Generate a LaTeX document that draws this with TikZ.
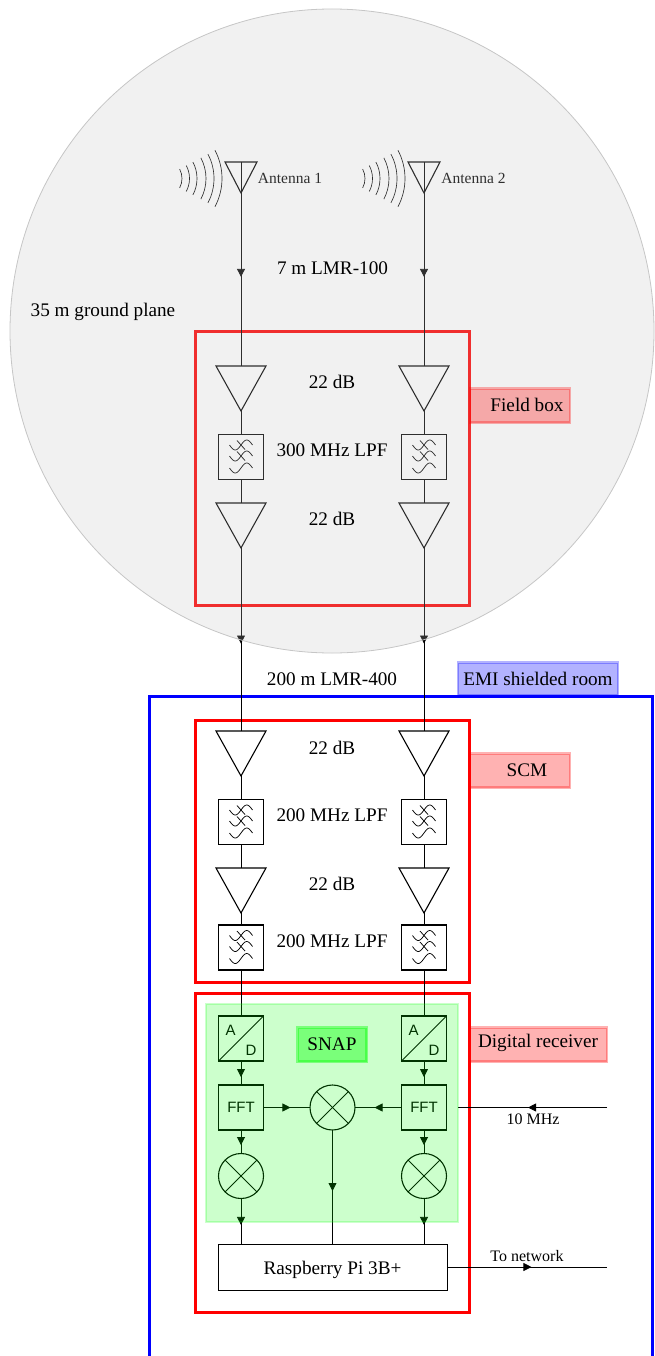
\documentclass[tikz,border=0pt]{standalone}
\usepackage{fontspec}
\setmainfont{Liberation Serif}
\setsansfont{Liberation Sans}
\usetikzlibrary{shapes.geometric,arrows.meta,decorations.markings}
\definecolor{cirfill}{gray}{0.77}
\tikzset{
  wire/.style={draw=black,line width=0.8pt},
  arrat/.style={postaction={decorate},decoration={markings,mark=at position #1 with {\arrow{Triangle[length=8pt,width=8pt]}}}},
  ampbox/.style={draw=black,line width=1.1pt,isosceles triangle,isosceles triangle stretches,shape border rotate=-90,inner sep=0pt,outer sep=0pt,anchor=apex,minimum width=50pt,minimum height=45pt},
  antbox/.style={ampbox,minimum width=32pt,minimum height=31pt},
  sqbox/.style={draw=black,line width=1.1pt,rectangle,inner sep=0pt,outer sep=0pt,minimum width=45pt,minimum height=45pt},
  mixbox/.style={draw=black,line width=1.1pt,circle,inner sep=0pt,outer sep=0pt,minimum size=45pt},
  lbl/.style={inner sep=0pt,anchor=base,font=\fontsize{19.2}{22}\selectfont},
  sml/.style={inner sep=0pt,anchor=base,font=\fontsize{16}{18}\selectfont},
  anl/.style={inner sep=0pt,anchor=base,font=\fontsize{15.5}{18}\selectfont},
  snf/.style={inner sep=0pt,anchor=base,font=\sffamily\fontsize{15}{17}\selectfont},
  redframe/.style={draw=red,line width=3pt},
  redtag/.style={draw=red,fill=red,opacity=.3,line width=2.5pt,rectangle,inner sep=0pt},
  lpfwave/.pic={
    \foreach \dy in {-12,-1,11}{
      \draw[line width=.75pt] plot[domain=-1:1,samples=31,smooth,variable=\t] ({\t*11.5},{\dy-5*sin(\t*180)});
    }
    \draw[line width=.75pt] (-4,-16.5) -- (4,-7.5);
    \draw[line width=.75pt] (-4,-5.5) -- (4,3.5);
  }
}
\begin{document}
\begin{tikzpicture}[x=1pt,y=-1pt]
\useasboundingbox (0,0) rectangle (655,1356);

% enclosing frames
\draw[draw=blue,line width=3pt] (149.5,1360) -- (149.5,696.5) -- (652,696.5) -- (652,1360);
\node[redframe,rectangle,inner sep=0pt,minimum width=274pt,minimum height=274pt] (fieldframe) at (332,468) {};
\node[redframe,rectangle,inner sep=0pt,minimum width=274pt,minimum height=262pt] (scmframe) at (332,851) {};
\node[redframe,rectangle,inner sep=0pt,minimum width=274pt,minimum height=319pt] (digframe) at (332,1153) {};

% two receiver chains
\foreach \c/\cx in {l/241,r/424}{
  \node[antbox] (ant\c) at (\cx,193) {};
  \node[ampbox] (fa\c) at (\cx,411) {};
  \node[sqbox] (fl\c) at (\cx,457) {};
  \pic at (\cx,457) {lpfwave};
  \node[ampbox] (fb\c) at (\cx,548) {};
  \node[ampbox] (sa\c) at (\cx,776) {};
  \node[sqbox] (sl\c) at (\cx,822) {};
  \pic at (\cx,822) {lpfwave};
  \node[ampbox] (sb\c) at (\cx,913) {};
  \node[sqbox] (sm\c) at (\cx,947.5) {};
  \pic at (\cx,947.5) {lpfwave};
  \node[sqbox] (ad\c) at (\cx,1038.5) {};
  \draw[line width=.8pt] (ad\c.south west) -- (ad\c.north east);
  \node[sqbox,font=\sffamily\fontsize{15}{17}\selectfont] (fft\c) at (\cx,1107.5) {FFT};
  \node[mixbox] (mx\c) at (\cx,1176) {};
  \draw[line width=.8pt] (mx\c.45) -- (mx\c.225);
  \draw[line width=.8pt] (mx\c.135) -- (mx\c.-45);

  \draw[wire,arrat=.563] (ant\c.lower side) -- (fa\c.lower side);
  \draw[wire] (fa\c.apex) -- (fl\c.north);
  \draw[wire] (fl\c.south) -- (fb\c.lower side);
  \draw[wire,arrat=.522] (fb\c.apex) -- (sa\c.lower side);
  \draw[wire] (sa\c.apex) -- (sl\c.north);
  \draw[wire] (sl\c.south) -- (sb\c.lower side);
  \draw[wire] (sb\c.apex) -- (sm\c.north);
  \draw[wire] (sm\c.south) -- (ad\c.north);
  \draw[wire,arrat=.667] (ad\c.south) -- (fft\c.north);
  \draw[wire,arrat=.64] (fft\c.south) -- (mx\c.north);
}
\node[snf] (adal) at (230.7,1035) {A};
\node[snf] (addl) at (251,1055) {D};
\node[snf] (adar) at (413.7,1035) {A};
\node[snf] (addr) at (434,1055) {D};

% incoming-wave arcs
\foreach \ox in {162,345}{
  \foreach \r in {20,27.5,35,44,52,60}{
    \draw[line width=.65pt] ({\ox+\r*cos(28)},{178.5+\r*sin(28)}) arc[start angle=-28,end angle=28,radius=\r pt];
  }
}
\node[anl] (ant1txt) at (290,184) {Antenna 1};
\node[anl] (ant2txt) at (473.5,184) {Antenna 2};

% centre mixer and Raspberry Pi
\node[mixbox] (mxc) at (332.5,1107.5) {};
\draw[line width=.8pt] (mxc.45) -- (mxc.225);
\draw[line width=.8pt] (mxc.135) -- (mxc.-45);
\node[draw=black,line width=.8pt,rectangle,inner sep=0pt,outer sep=0pt,minimum width=229pt,minimum height=46pt] (pi) at (332.5,1267) {};
\draw[wire,arrat=.58] (fftl.east) -- (mxc.west);
\draw[wire,arrat=.58] (fftr.west) -- (mxc.east);
\draw[wire,arrat=.58] (mxl.south) -- (pi.north -| mxl.south);
\draw[wire,arrat=.58] (mxr.south) -- (pi.north -| mxr.south);
\draw[wire,arrat=.535] (mxc.south) -- (pi.north -| mxc.south);

% outside connections
\coordinate (tenin) at (607,1107.5);
\coordinate (tenout) at (458,1107.5);
\coordinate (netout) at (607,1267);
\draw[wire,arrat=.53] (tenin) -- (tenout);
\draw[wire,arrat=.528] (pi.east) -- (netout);

% translucent overlays
\node[circle,fill=cirfill,fill opacity=.24,inner sep=0pt,minimum size=644pt] (plane) at (332,331) {};
\draw[draw=gray!45,line width=.8pt] (plane) circle[radius=322pt];
\node[rectangle,fill=green,draw=green,opacity=.2,line width=2.5pt,inner sep=0pt,minimum width=252pt,minimum height=218pt] (snapzone) at (332,1113) {};

% tags
\node[redtag,minimum width=100pt,minimum height=34pt] (fieldtag) at (520,405.5) {};
\node[redtag,minimum width=100pt,minimum height=34pt] (scmtag) at (520,770.5) {};
\node[redtag,minimum width=137pt,minimum height=34pt] (digtag) at (538.5,1044.5) {};
\node[draw=blue,fill=blue,opacity=.3,line width=2.5pt,rectangle,inner sep=0pt,minimum width=160pt,minimum height=33pt] (emitag) at (538,679) {};
\node[draw=green,fill=green,opacity=.4,line width=2.5pt,rectangle,inner sep=0pt,minimum width=69pt,minimum height=34pt] (snaptag) at (332,1044.5) {};

% text
\node[lbl] (t7m) at (332.5,274.3) {7 m LMR-100};
\node[lbl] (tgp) at (103,316) {35 m ground plane};
\node[lbl] (tg1) at (332,388.3) {22 dB};
\node[lbl] (tf3) at (332,456.8) {300 MHz LPF};
\node[lbl] (tg2) at (332,525.5) {22 dB};
\node[lbl] (tfb) at (527,411.5) {Field box};
\node[lbl] (t200) at (332,685) {200 m LMR-400};
\node[lbl] (temi) at (538,685) {EMI shielded room};
\node[lbl] (tg3) at (332,754) {22 dB};
\node[lbl] (tl1) at (332,821.5) {200 MHz LPF};
\node[lbl] (tg4) at (332,890.5) {22 dB};
\node[lbl] (tl2) at (332,947.5) {200 MHz LPF};
\node[lbl] (tscm) at (527,776) {SCM};
\node[lbl] (tsnap) at (332,1050.5) {SNAP};
\node[lbl] (tdig) at (538,1047.3) {Digital receiver};
\node[sml] (t10) at (533,1124) {10 MHz};
\node[sml] (tnet) at (527,1261.7) {To network};
\node[lbl] (tpi) at (332.5,1274.5) {Raspberry Pi 3B+};
\end{tikzpicture}
\end{document}
